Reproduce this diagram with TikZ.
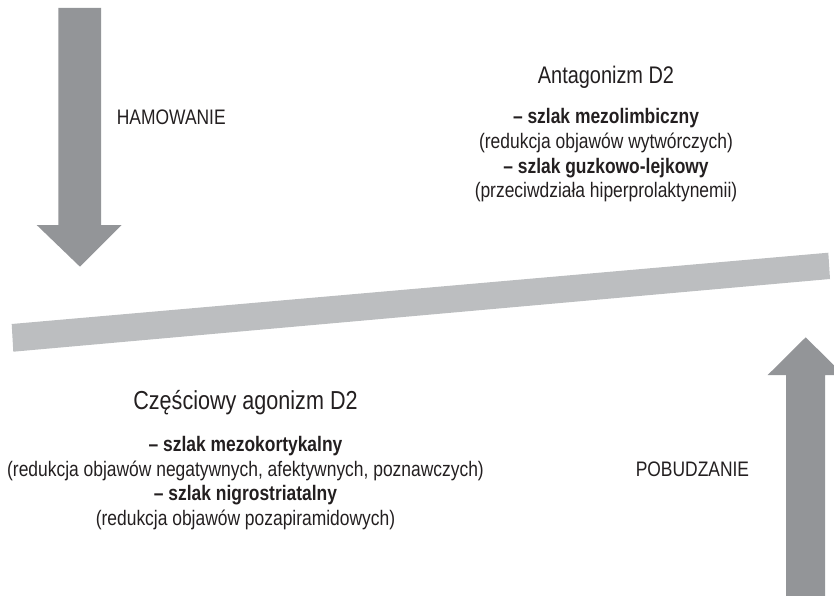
\documentclass[tikz,border=0pt]{standalone}
\usepackage{fontspec}
\setmainfont{Liberation Sans}[FakeStretch=0.83]
\usetikzlibrary{positioning}
\definecolor{szary}{HTML}{939598}
\definecolor{belka}{HTML}{BCBEC0}
\definecolor{tekst}{HTML}{231F20}
\tikzset{
  napis/.style={text=tekst, inner sep=0pt, anchor=base},
  tytul/.style={napis, font=\fontsize{24}{28}\selectfont},
  szlak/.style={napis, font=\fontsize{21}{25}\selectfont\bfseries},
  opis/.style={napis, font=\fontsize{21}{25}\selectfont},
}

\begin{document}
\begin{tikzpicture}[x=1pt,y=-1pt]
  \useasboundingbox (0,0) rectangle (834,596);
  \clip (0,0) rectangle (834,596);

  \fill[belka] (11.7,324) -- (828.3,252.7) -- (830,279) -- (13.3,351.7) -- cycle;
  \fill[szary] (58.3,8) -- (101,8) -- (101,225) -- (121.7,225) -- (80,266.7)
    -- (36.7,225) -- (58.3,225) -- cycle;
  \fill[szary] (786,596) -- (786,375) -- (767.7,375) -- (805.7,337.3)
    -- (843.7,375) -- (825,375) -- (825,596) -- cycle;

  \node[opis, anchor=base west] (hamow) at (116.7,124.3) {HAMOWANIE};
  \node[opis, anchor=base east] (pobudz) at (749.3,476.5) {POBUDZANIE};

  \node[tytul] (antag) at (606,83.3) {Antagonizm D2};
  \node[szlak, below=40.7pt of antag.base, anchor=base] (mezolimb) {– szlak mezolimbiczny};
  \node[opis, below=24.5pt of mezolimb.base, anchor=base] (wytw) {(redukcja objawów wytwórczych)};
  \node[szlak, below=24.5pt of wytw.base, anchor=base] (guzkowo) {– szlak guzkowo-lejkowy};
  \node[opis, below=24.5pt of guzkowo.base, anchor=base] (hiperprl) {(przeciwdziała hiperprolaktynemii)};

  \node[tytul, font=\fontsize{26}{30}\selectfont] (agon) at (245.5,409.3) {Częściowy agonizm D2};
  \node[szlak, below=42.4pt of agon.base, anchor=base] (mezokort) {– szlak mezokortykalny};
  \node[opis, below=24.5pt of mezokort.base, anchor=base] (negat) {(redukcja objawów negatywnych, afektywnych, poznawczych)};
  \node[szlak, below=24.5pt of negat.base, anchor=base] (nigro) {– szlak nigrostriatalny};
  \node[opis, below=24.5pt of nigro.base, anchor=base] (pozapir) {(redukcja objawów pozapiramidowych)};
\end{tikzpicture}
\end{document}
